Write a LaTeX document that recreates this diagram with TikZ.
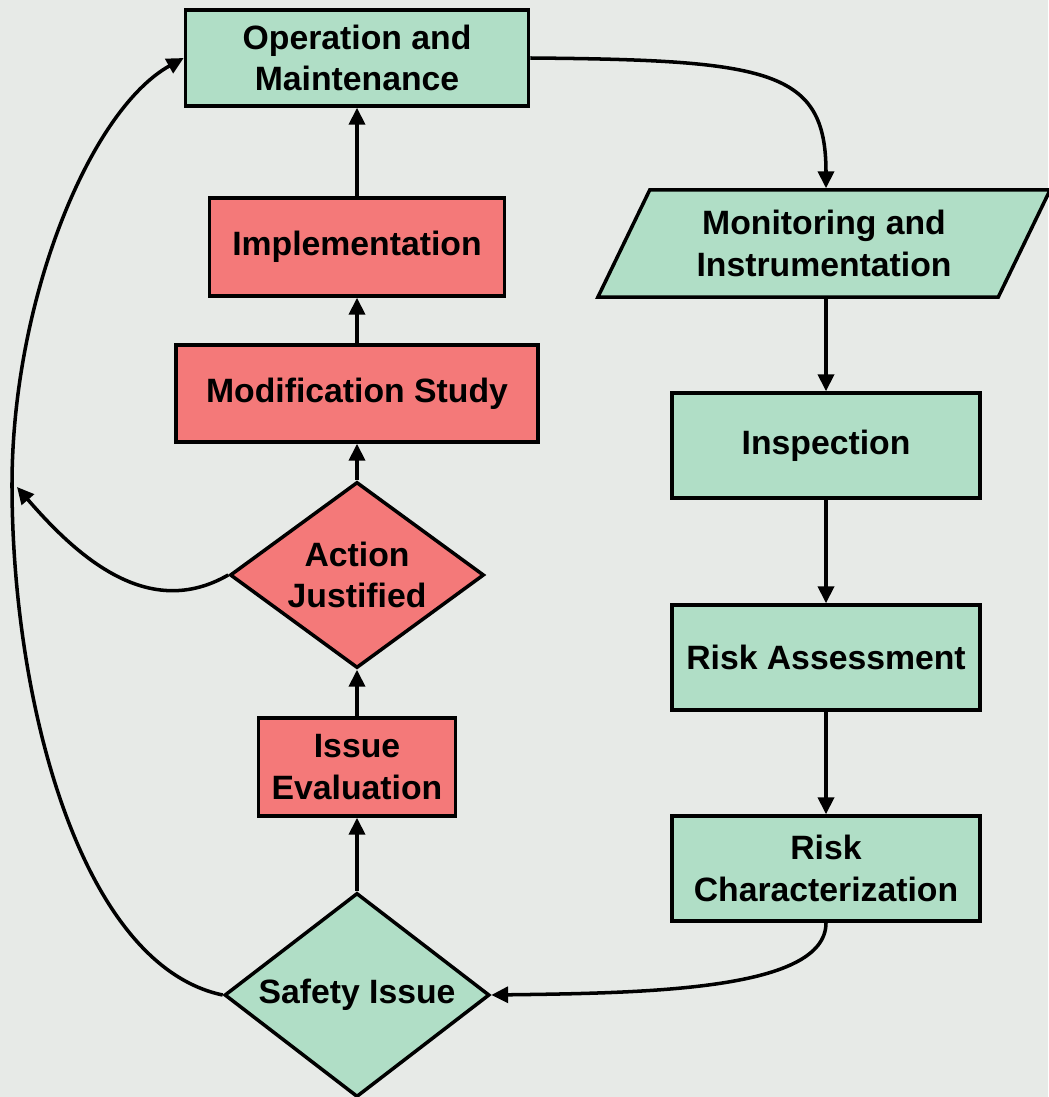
\documentclass[tikz,border=0pt]{standalone}
\usepackage{fontspec}
\setmainfont{Liberation Sans}
\usetikzlibrary{shapes.geometric,arrows.meta}
\definecolor{bgcol}{RGB}{231,234,231}
\definecolor{boxgreen}{RGB}{176,222,198}
\definecolor{boxred}{RGB}{244,121,121}

\begin{document}
\begin{tikzpicture}[x=0.025cm, y=-0.025cm,
  lbl/.style={font=\fontsize{24}{29.5}\selectfont\bfseries, align=center, inner sep=0pt},
  boxg/.style={lbl, rectangle, draw=black, line width=2.5pt, fill=boxgreen},
  boxr/.style={boxg, fill=boxred},
  diamg/.style={lbl, diamond, draw=black, line width=2.5pt, fill=boxgreen},
  diamr/.style={diamg, fill=boxred},
  flow/.style={line width=2.5pt, -{Triangle[length=0.42cm,width=0.4cm]}}]
  %% --- background ---
  \useasboundingbox (0,0) rectangle (1048,1097);
  \fill[bgcol] (0,0) rectangle (1048,1097);

  %% --- left column: repair loop ---
  \node[boxg, minimum width=8.575cm, minimum height=2.4cm] (opm) at (357,58) {Operation and\\Maintenance};
  \node[boxr, minimum width=7.375cm, minimum height=2.45cm] (impl) at (357,247) {Implementation};
  \node[boxr, minimum width=9.05cm, minimum height=2.425cm] (mods) at (357,393.5) {Modification Study};
  \node[diamr, shape aspect=1.37, minimum width=6.35cm, minimum height=4.65cm] (act) at (357,575) {Action\\Justified};
  \node[boxr, minimum width=4.925cm, minimum height=2.45cm] (iev) at (357,767) {Issue\\Evaluation};
  \node[diamg, shape aspect=1.3, minimum width=6.625cm, minimum height=5.1cm] (saf) at (357,995) {Safety Issue};

  %% --- right column: surveillance ---
  \node[boxg, trapezium, trapezium left angle=52, trapezium right angle=128,
        trapezium stretches body, minimum width=11.3cm, minimum height=2.675cm] (mon) at (824,243.5) {Monitoring and\\Instrumentation};
  \node[boxg, minimum width=7.7cm, minimum height=2.625cm] (insp) at (826,445.5) {Inspection};
  \node[boxg, minimum width=7.7cm, minimum height=2.625cm] (risa) at (826,657.5) {Risk Assessment};
  \node[boxg, minimum width=7.7cm, minimum height=2.625cm] (risc) at (826,868.5) {Risk\\Characterization};

  %% straight steps
  \foreach \a/\b in {impl/opm, mods/impl, act/mods, iev/act, saf/iev, insp/risa, risa/risc} {
    \draw[flow] (\a) -- (\b);
  }
  \draw[flow] (mon.south -| insp.north) -- (insp.north);

  %% bends
  \draw[flow] (opm.east) .. controls (770,60) and (826,70) .. (mon.north -| insp.north);
  \draw[flow] (risc.south) .. controls (826,990) and (650,993) .. (saf.east);
  \coordinate (loop) at (12,485);
  \draw[flow] (saf.west) .. controls (80,965) and (12,700) .. (loop)
                         .. controls (12,300) and (90,110) .. (opm.west);
  \coordinate (back) at (17,487);
  \draw[flow] (act.west) .. controls (150,620) and (80,560) .. (back);
\end{tikzpicture}
\end{document}
